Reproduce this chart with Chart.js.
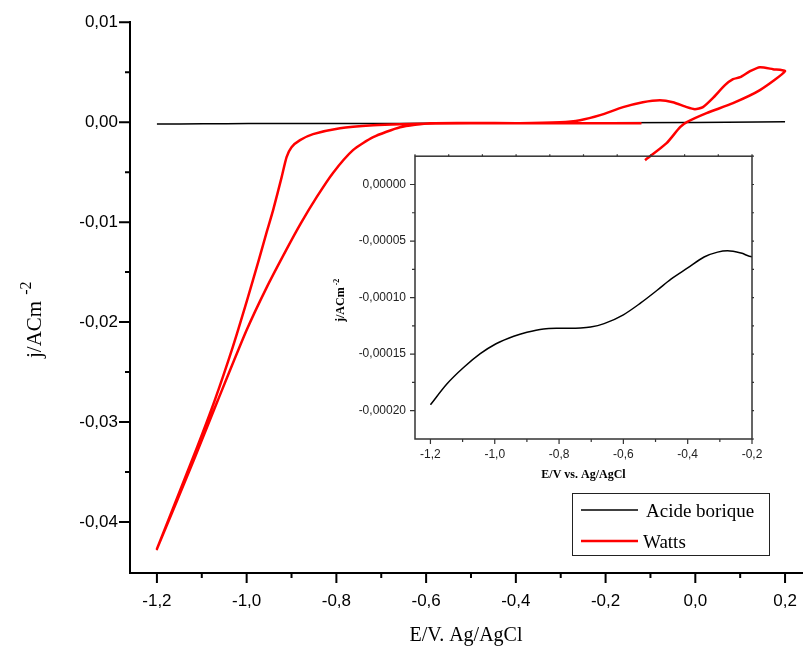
<!DOCTYPE html>
<html>
<head>
<meta charset="utf-8">
<script src="https://cdn.jsdelivr.net/npm/chart.js@4.4.0/dist/chart.umd.min.js"></script>
<style>
  html, body { margin: 0; padding: 0; background: #fff; }
  #wrap { position: relative; width: 803px; height: 650px; overflow: hidden; }
  #main { position: absolute; left: 0; top: 0; }
  #inset { position: absolute; left: 330px; top: 140px; }
</style>
</head>
<body>
<div id="wrap">
  <canvas id="main" width="803" height="650"></canvas>
  <canvas id="inset" width="440" height="350"></canvas>
</div>
<script>
// valeurs
const acideE = [-1.2, -1.149, -1.097, -1.045, -0.996, -0.941, -0.9, -0.848, -0.796, -0.733, -0.702, -0.66, -0.6, -0.546, -0.494, -0.452, -0.4, -0.349, -0.307, -0.276, -0.234, -0.2, 0.0, 0.2];
const acideJ = [-0.0001948, -0.0001764, -0.0001618, -0.0001496, -0.0001408, -0.0001341, -0.0001306, -0.0001277, -0.0001271, -0.0001268, -0.000126, -0.000123, -0.0001152, -0.0001047, -0.0000933, -0.0000837, -0.0000738, -0.0000641, -0.0000598, -0.0000586, -0.0000606, -0.0000638, -0.00003, 0.00003];

const wattsE = [-0.112, -0.064, -0.034, -0.019, 0.025, 0.084, 0.144, 0.2,
  0.173, 0.144, 0.122, 0.1, 0.084, 0.066, 0.039, 0.017, -0.001, -0.019, -0.05, -0.079, -0.117, -0.161, -0.212, -0.257, -0.302, -0.391, -0.5,
  -0.658, -0.718, -0.792, -0.852, -0.881, -0.9, -0.911, -0.922, -0.941, -0.956, -0.973, -0.999, -1.031, -1.071, -1.119, -1.2,
  -1.115, -1.064, -1.0, -0.955, -0.912, -0.879, -0.844, -0.808, -0.763, -0.718, -0.658, -0.591, -0.4, -0.12];
const wattsJ = [-0.0038, -0.0021, -0.0005, 0.0, 0.0009, 0.0019, 0.0032, 0.0051,
  0.0053, 0.0055, 0.0051, 0.0045, 0.0043, 0.0037, 0.0024, 0.0015, 0.0013, 0.0015, 0.002, 0.0022, 0.002, 0.0015, 0.0007, 0.0002, 0.0, -0.0001, -0.0001,
  -0.0002, -0.0003, -0.0006, -0.0012, -0.0018, -0.0025, -0.0035, -0.0055, -0.0088, -0.0111, -0.0138, -0.0178, -0.0225, -0.0278, -0.0335, -0.0427,
  -0.0335, -0.0278, -0.0208, -0.0165, -0.0128, -0.0101, -0.0075, -0.0051, -0.0028, -0.0015, -0.0005, -0.0001, -0.0001, -0.0001];

const seriesNames = ['Acide borique', 'Watts'];

const mainXTicks = [-1.2, -1.0, -0.8, -0.6, -0.4, -0.2, 0.0, 0.2];
const mainXLabels = ['-1,2', '-1,0', '-0,8', '-0,6', '-0,4', '-0,2', '0,0', '0,2'];
const mainYTicks = [0.01, 0.0, -0.01, -0.02, -0.03, -0.04];
const mainYLabels = ['0,01', '0,00', '-0,01', '-0,02', '-0,03', '-0,04'];

const insetXTicks = [-1.2, -1.0, -0.8, -0.6, -0.4, -0.2];
const insetXLabels = ['-1,2', '-1,0', '-0,8', '-0,6', '-0,4', '-0,2'];
const insetYTicks = [0.0, -0.00005, -0.0001, -0.00015, -0.0002];
const insetYLabels = ['0,00000', '-0,00005', '-0,00010', '-0,00015', '-0,00020'];

const pts = (xs, ys) => xs.map((x, i) => ({ x: x, y: ys[i] }));
const mids = (t) => t.slice(1).map((v, i) => (v + t[i]) / 2);

const sans = '"Liberation Sans", Arial, sans-serif';
const serif = '"Liberation Serif", "Times New Roman", serif';

// traits de graduation
function tickMarks(ctx, scale, values, len, side, area) {
  values.forEach(v => {
    const p = scale.getPixelForValue(v);
    if (side === 'bottom') { ctx.moveTo(p, area.bottom); ctx.lineTo(p, area.bottom + len); }
    if (side === 'top') { ctx.moveTo(p, area.top); ctx.lineTo(p, area.top - len); }
    if (side === 'left') { ctx.moveTo(area.left, p); ctx.lineTo(area.left - len, p); }
    if (side === 'right') { ctx.moveTo(area.right, p); ctx.lineTo(area.right + len, p); }
  });
}

const mainDecor = {
  id: 'mainDecor',
  afterDraw(chart) {
    const ctx = chart.ctx, a = chart.chartArea;
    const xs = chart.scales.x, ys = chart.scales.y;
    ctx.save();
    ctx.strokeStyle = '#000';
    ctx.lineWidth = 2;
    ctx.beginPath();
    tickMarks(ctx, xs, mainXTicks, 10, 'bottom', a);
    tickMarks(ctx, xs, mids(mainXTicks), 5, 'bottom', a);
    tickMarks(ctx, ys, mainYTicks, 11, 'left', a);
    tickMarks(ctx, ys, mids(mainYTicks), 5, 'left', a);
    ctx.stroke();

    ctx.fillStyle = '#000';
    ctx.font = '20px ' + serif;
    ctx.textAlign = 'center';
    ctx.textBaseline = 'alphabetic';
    ctx.fillText('E/V. Ag/AgCl', 466, 641);

    // titre y avec exposant
    ctx.save();
    ctx.translate(41, 358);
    ctx.rotate(-Math.PI / 2);
    ctx.textAlign = 'left';
    ctx.font = '21px ' + serif;
    ctx.fillText('j/ACm', 0, 0);
    const w1 = ctx.measureText('j/ACm').width;
    ctx.font = '16px ' + serif;
    ctx.fillText('-2', w1 + 6, -10);
    ctx.restore();

    // légende
    ctx.lineWidth = 1;
    ctx.strokeStyle = '#222';
    ctx.strokeRect(572.5, 493.5, 197, 62);
    ctx.beginPath();
    ctx.lineWidth = 1.5;
    ctx.strokeStyle = '#000';
    ctx.moveTo(581, 510); ctx.lineTo(638, 510);
    ctx.stroke();
    ctx.beginPath();
    ctx.lineWidth = 2.5;
    ctx.strokeStyle = '#ff0000';
    ctx.moveTo(581, 541); ctx.lineTo(638, 541);
    ctx.stroke();
    ctx.font = '19px ' + serif;
    ctx.textAlign = 'left';
    ctx.fillStyle = '#000';
    ctx.fillText(seriesNames[0], 646, 517);
    ctx.fillText(seriesNames[1], 643, 548);
    ctx.restore();
  }
};

const insetDecor = {
  id: 'insetDecor',
  afterDraw(chart) {
    const ctx = chart.ctx, a = chart.chartArea;
    const xs = chart.scales.x, ys = chart.scales.y;
    ctx.save();
    ctx.strokeStyle = '#333';
    ctx.lineWidth = 1.5;
    ctx.strokeRect(a.left, a.top, a.right - a.left, a.bottom - a.top);
    ctx.lineWidth = 1.2;
    ctx.beginPath();
    tickMarks(ctx, xs, insetXTicks, 5, 'bottom', a);
    tickMarks(ctx, xs, mids(insetXTicks), 3, 'bottom', a);
    tickMarks(ctx, ys, insetYTicks, 5, 'left', a);
    tickMarks(ctx, ys, mids(insetYTicks), 3, 'left', a);
    tickMarks(ctx, ys, insetYTicks.concat(mids(insetYTicks), [0.000025, -0.000225]), 2, 'right', a);
    const topVals = [];
    for (let i = 0; i <= 10; i++) topVals.push(xs.min + i * (xs.max - xs.min) / 10);
    tickMarks(ctx, xs, topVals, 2, 'top', a);
    ctx.stroke();

    ctx.fillStyle = '#000';
    ctx.font = 'bold 12px ' + serif;
    ctx.textAlign = 'center';
    ctx.fillText('E/V vs. Ag/AgCl', (a.left + a.right) / 2, 338);

    ctx.save();
    ctx.translate(14, 182);
    ctx.rotate(-Math.PI / 2);
    ctx.textAlign = 'left';
    ctx.font = 'bold 12px ' + serif;
    ctx.fillText('j/ACm', 0, 0);
    const w1 = ctx.measureText('j/ACm').width;
    ctx.font = 'bold 8px ' + serif;
    ctx.fillText('-2', w1 + 2, -5);
    ctx.restore();
    ctx.restore();
  }
};

new Chart(document.getElementById('main'), {
  type: 'scatter',
  data: {
    datasets: [
      {
        label: seriesNames[1],
        data: pts(wattsE, wattsJ),
        showLine: true,
        borderColor: '#ff0000',
        borderWidth: 2.5,
        pointRadius: 0,
        tension: 0.2,
        order: 0
      },
      {
        label: seriesNames[0],
        data: pts(acideE, acideJ),
        showLine: true,
        borderColor: '#000',
        borderWidth: 1.5,
        pointRadius: 0,
        cubicInterpolationMode: 'monotone',
        order: 1
      }
    ]
  },
  options: {
    responsive: false,
    animation: false,
    devicePixelRatio: 1,
    events: [],
    layout: { padding: { left: 0, right: 0, top: 22, bottom: 0 } },
    plugins: { legend: { display: false }, tooltip: { enabled: false } },
    scales: {
      x: {
        type: 'linear',
        min: -1.26,
        max: 0.24,
        afterBuildTicks: s => { s.ticks = mainXTicks.map(v => ({ value: v })); },
        afterFit: s => { s.height = 77; s.paddingLeft = 0; s.paddingRight = 0; },
        grid: { display: false, drawTicks: false },
        border: { display: true, color: '#000', width: 2 },
        ticks: {
          padding: 18,
          color: '#000',
          font: { family: sans, size: 17 },
          maxRotation: 0,
          autoSkip: false,
          callback: (v, i) => mainXLabels[i]
        }
      },
      y: {
        type: 'linear',
        min: -0.0451,
        max: 0.01,
        afterBuildTicks: s => { s.ticks = mainYTicks.map(v => ({ value: v })); },
        afterFit: s => { s.width = 130; },
        grid: { display: false, drawTicks: false },
        border: { display: true, color: '#000', width: 2 },
        ticks: {
          padding: 12,
          color: '#000',
          font: { family: sans, size: 17 },
          autoSkip: false,
          callback: (v, i) => mainYLabels[i]
        }
      }
    }
  },
  plugins: [mainDecor]
});

new Chart(document.getElementById('inset'), {
  type: 'scatter',
  data: {
    datasets: [{
      label: seriesNames[0],
      data: pts(acideE, acideJ),
      showLine: true,
      borderColor: '#000',
      borderWidth: 1.5,
      pointRadius: 0,
      cubicInterpolationMode: 'monotone'
    }]
  },
  options: {
    responsive: false,
    animation: false,
    devicePixelRatio: 1,
    events: [],
    layout: { padding: { left: 0, right: 18, top: 13, bottom: 0 } },
    plugins: { legend: { display: false }, tooltip: { enabled: false } },
    scales: {
      x: {
        type: 'linear',
        min: -1.248,
        max: -0.2,
        afterBuildTicks: s => { s.ticks = insetXTicks.map(v => ({ value: v })); },
        afterFit: s => { s.height = 51; s.paddingLeft = 0; s.paddingRight = 0; },
        grid: { display: false, drawTicks: false },
        border: { display: false },
        ticks: {
          padding: 8,
          color: '#222',
          font: { family: sans, size: 12 },
          maxRotation: 0,
          autoSkip: false,
          callback: (v, i) => insetXLabels[i]
        }
      },
      y: {
        type: 'linear',
        min: -0.000225,
        max: 0.000025,
        afterBuildTicks: s => { s.ticks = insetYTicks.map(v => ({ value: v })); },
        afterFit: s => { s.width = 85; },
        grid: { display: false, drawTicks: false },
        border: { display: false },
        ticks: {
          padding: 9,
          color: '#222',
          font: { family: sans, size: 12 },
          autoSkip: false,
          callback: (v, i) => insetYLabels[i]
        }
      }
    }
  },
  plugins: [insetDecor]
});
</script>
</body>
</html>
